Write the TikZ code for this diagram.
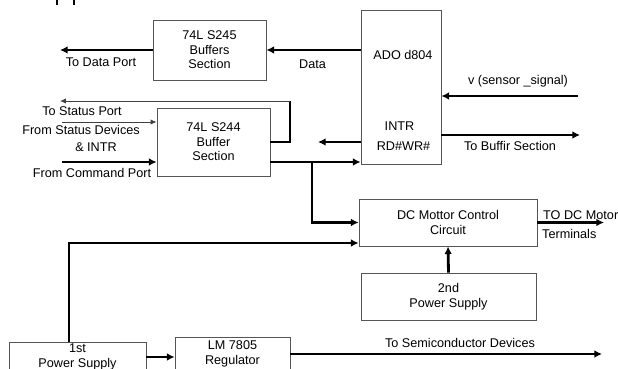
\documentclass[tikz,border=0pt]{standalone}
\usepackage{fontspec}
\setmainfont{Liberation Sans}
\usepackage{tikz}
\usetikzlibrary{arrows.meta, positioning, calc}
\definecolor{boxline}{HTML}{555555}
\colorlet{wirethin}{black!75}
\tikzset{
  blockbox/.style={draw=boxline, line width=0.7pt, align=center, inner sep=0pt,
    font=\fontsize{10.8}{12.4}\selectfont},
  bus/.style={line width=2.4pt, -{Latex[length=6.5pt,width=6.5pt]}},
  sig/.style={line width=0.8pt, draw=wirethin, -{Latex[length=5pt,width=4.5pt]}},
  lbl/.style={font=\fontsize{10.8}{12.4}\selectfont, inner sep=0pt},
}

\begin{document}
\begin{tikzpicture}[x=0.03cm, y=-0.03cm]
  \fill[white] (0,0) rectangle (618,369);
  \useasboundingbox (0,0) rectangle (618,369);
  % stray marks at the top edge
  \draw[line width=1.5pt] (57,0) -- (57,5);
  \draw[line width=1.5pt] (74,0) -- (74,5);

  % blocks
  \node[blockbox, minimum width=3.39cm, minimum height=1.8cm] (b245) at (209.5,50) {74L S245\\Buffers\\Section};
  \node[blockbox, minimum width=2.4cm, minimum height=4.62cm] (ado) at (401,87) {};
  \node[lbl] (adoname) at (403,55) {ADO d804};
  \node[lbl] (adointr) at (399.5,126) {INTR};
  \node[lbl] (adordwr) at (403.5,146) {RD\#WR\#};
  \node[blockbox, minimum width=3.39cm, minimum height=2.04cm] (b244) at (213.5,142) {74L S244\\Buffer\\Section};
  \node[blockbox, minimum width=5.34cm, minimum height=1.41cm] (dcm) at (448,222.5) {DC Mottor Control\\Circuit};
  \node[blockbox, minimum width=5.25cm, minimum height=1.41cm] (ps2) at (448.5,296.5) {2nd\\Power Supply};
  \node[blockbox, minimum width=4.11cm, minimum height=0.9cm] (ps1) at (77.5,357) {1st\\Power Supply};
  \node[blockbox, minimum width=3.45cm, minimum height=1.02cm] (lm) at (232.5,354) {LM 7805\\Regulator};

  % free ends
  \coordinate (dataport) at (60,50);
  \coordinate (sensin) at (578,96);
  \coordinate (bufout) at (580,135);
  \coordinate (introut) at (318,142);
  \coordinate (stcorner) at (290,101);
  \coordinate (statport) at (60,101);
  \coordinate (statdev) at (62,122);
  \coordinate (cmdport) at (62,162);
  \coordinate (busjoin) at (312,162);
  \coordinate (pwrup) at (69,243);
  \coordinate (motorout) at (604,222.5);
  \coordinate (semiout) at (602,354);

  % connectors
  \draw[bus] (b245.west) -- (dataport);
  \draw[bus] (ado.west |- b245.east) -- (b245.east);
  \draw[bus] (sensin) -- (ado.east |- sensin);
  \draw[bus] (ado.east |- bufout) -- (bufout);
  \draw[bus] (ado.west |- introut) -- (introut);
  \draw[line width=2.4pt] (b244.east) -| (stcorner);
  \draw[sig] (stcorner) -- (statport);
  \draw[sig] (statdev) -- (b244.west |- statdev);
  \draw[bus] (cmdport) -- (b244.west |- cmdport);
  \draw[bus] (b244.east |- cmdport) -- (ado.west |- cmdport);
  \draw[bus] (busjoin) |- (dcm.west);
  \draw[bus] (ps1.north -| pwrup) |- (dcm.west |- pwrup);
  \draw[bus] (dcm.east) -- (motorout);
  \draw[bus] (ps2.north) -- (dcm.south);
  \draw[bus] (ps1.east) -- (lm.west |- ps1.east);
  \draw[bus] (lm.east) -- (semiout);

  % labels
  \node[lbl] (ldataport) at (101,62) {To Data Port};
  \node[lbl] (ldata) at (312.5,64) {Data};
  \node[lbl] (lsens) at (518,81) {v (sensor \_signal)};
  \node[lbl] (lbuf) at (510,146) {To Buffir Section};
  \node[lbl] (lstport) at (82,111) {To Status Port};
  \node[lbl] (lstdev) at (81,130) {From Status Devices};
  \node[lbl] (lintr) at (96,147) {\& INTR};
  \node[lbl] (lcmd) at (92,173) {From Command Port};
  \node[lbl, anchor=west] (lmotor) at (543,215) {TO DC Motor};
  \node[lbl, anchor=west] (lterm) at (542,234) {Terminals};
  \node[lbl] (lsemi) at (460,343) {To Semiconductor Devices};
\end{tikzpicture}
\end{document}
